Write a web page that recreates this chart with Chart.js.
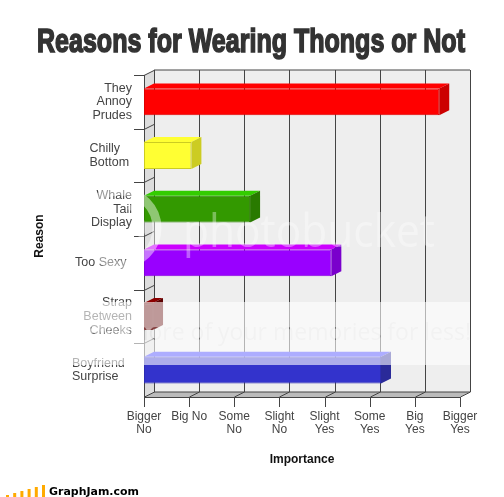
<!DOCTYPE html>
<html>
<head>
    <style>
        body { margin: 0; background: white; }
        canvas { display: block; }
    </style>
    <script src="https://cdn.jsdelivr.net/npm/chart.js"></script>
</head>
<body>
    <canvas id="chart" width="504" height="497"></canvas>
    <script>
        const chartTitle = "Reasons for Wearing Thongs or Not";
        const categories = [
            ["They", "Annoy", "Prudes"],
            ["Chilly", "Bottom"],
            ["Whale", "Tail", "Display"],
            ["Too Sexy"],
            ["Strap", "Between", "Cheeks"],
            ["Boyfriend", "Surprise"]
        ];
        const values = [6.54, 1.05, 2.35, 4.15, 0.2, 5.25];
        const importanceLabels = [
            ["Bigger", "No"], ["Big No"], ["Some", "No"], ["Slight", "No"],
            ["Slight", "Yes"], ["Some", "Yes"], ["Big", "Yes"], ["Bigger", "Yes"]
        ];

        // face colours per bar
        const frontColors = ["#ff0000", "#ffff33", "#339900", "#9900ff", "#5c0000", "#3333cc"];
        const edgeColors = ["#dd0000", "#cccc22", "#2b8000", "#8500dd", "#5c0000", "#2c2cb0"];
        const topColors = ["#ff0000", "#ffff33", "#33cc00", "#cc00ff", "#8b0000", "#3333ff"];
        const sideColors = ["#cc0000", "#cccc22", "#297a00", "#7a00cc", "#5c0000", "#2a2a99"];
        // left edge of the left aligned labels, the others sit right aligned on the axis
        const labelLeft = [null, 89.5, null, 75, null, 72];

        const DX = 10, DY = 5; // depth of the fake 3d

        function poly(ctx, pts, fill) {
            ctx.beginPath();
            ctx.moveTo(pts[0][0], pts[0][1]);
            for (let i = 1; i < pts.length; i++) ctx.lineTo(pts[i][0], pts[i][1]);
            ctx.closePath();
            ctx.fillStyle = fill;
            ctx.fill();
        }

        function seg(ctx, x1, y1, x2, y2) {
            ctx.beginPath();
            ctx.moveTo(x1, y1);
            ctx.lineTo(x2, y2);
            ctx.stroke();
        }

        const walls = {
            id: "walls",
            beforeDatasetsDraw(chart) {
                const ctx = chart.ctx, a = chart.chartArea, xs = chart.scales.x, ys = chart.scales.y;
                ctx.save();
                poly(ctx, [[a.left + DX, a.top - DY], [a.right + DX, a.top - DY], [a.right + DX, a.bottom - DY], [a.left + DX, a.bottom - DY]], "#eeeeee");
                poly(ctx, [[a.left, a.top], [a.left + DX, a.top - DY], [a.left + DX, a.bottom - DY], [a.left, a.bottom]], "#dddddd");
                poly(ctx, [[a.left, a.bottom], [a.left + DX, a.bottom - DY], [a.right + DX, a.bottom - DY], [a.right, a.bottom]], "#bbbbbb");

                ctx.strokeStyle = "#444444";
                ctx.lineWidth = 1;
                importanceLabels.forEach((l, i) => {
                    const x = Math.round(xs.getPixelForValue(i)) + 0.5;
                    seg(ctx, x + DX, a.top - DY, x + DX, a.bottom - DY);
                    seg(ctx, x, a.bottom, x + DX, a.bottom - DY);
                    seg(ctx, x, a.bottom, x, a.bottom + 10);
                });
                seg(ctx, a.left + DX, a.top - DY, a.right + DX, a.top - DY);
                seg(ctx, a.left + DX, a.bottom - DY, a.right + DX, a.bottom - DY);
                seg(ctx, a.left, a.bottom + 0.5, a.right, a.bottom + 0.5);
                seg(ctx, a.left + 0.5, a.top, a.left + 0.5, a.bottom);
                categories.forEach((c, i) => {
                    const y = Math.round(ys.getPixelForValue(i - 0.5)) + 0.5;
                    seg(ctx, a.left - 10, y, a.left, y);
                    seg(ctx, a.left, y, a.left + DX, y - DY);
                });
                ctx.restore();
            }
        };

        const bars3d = {
            id: "bars3d",
            afterDatasetsDraw(chart) {
                const ctx = chart.ctx;
                chart.getDatasetMeta(0).data.forEach((bar, i) => {
                    const x0 = bar.base, x1 = bar.x;
                    const y0 = bar.y - bar.height / 2, y1 = bar.y + bar.height / 2;
                    poly(ctx, [[x0, y0], [x0 + DX, y0 - DY], [x1 + DX, y0 - DY], [x1, y0]], topColors[i]);
                    poly(ctx, [[x1, y0], [x1 + DX, y0 - DY], [x1 + DX, y1 - DY], [x1, y1]], sideColors[i]);
                });
            }
        };

        const texts = {
            id: "texts",
            afterDatasetsDraw(chart) {
                const ctx = chart.ctx, a = chart.chartArea, ys = chart.scales.y;
                ctx.save();
                // title, squeezed by maxWidth since there is no narrow face
                ctx.font = "bold 33px 'Liberation Sans'";
                ctx.textAlign = "left";
                ctx.textBaseline = "alphabetic";
                ctx.fillStyle = "#333333";
                ctx.strokeStyle = "#333333";
                ctx.lineWidth = 1.6;
                ctx.fillText(chartTitle, 37, 52, 428);
                ctx.strokeText(chartTitle, 37, 52, 428);

                // category labels
                ctx.font = "12.5px 'Liberation Sans'";
                ctx.fillStyle = "#444444";
                ctx.textBaseline = "middle";
                categories.forEach((lines, i) => {
                    const cy = ys.getPixelForValue(i);
                    const left = labelLeft[i];
                    ctx.textAlign = left === null ? "right" : "left";
                    const x = left === null ? a.left - 12 : left;
                    lines.forEach((line, k) => {
                        ctx.fillText(line, x, cy + (k - (lines.length - 1) / 2) * 13.7);
                    });
                });

                // logo
                ctx.fillStyle = "#ffaa00";
                [2, 4, 6, 8, 10, 12].forEach((h, i) => ctx.fillRect(6 + i * 7.2, 497 - h, 3, h));
                ctx.fillStyle = "#000000";
                ctx.font = "bold 11px 'DejaVu Sans'";
                ctx.textAlign = "left";
                ctx.textBaseline = "alphabetic";
                ctx.fillText("GraphJam.com", 49, 495, 90);
                ctx.restore();
            }
        };

        const watermark = {
            id: "watermark",
            afterDraw(chart) {
                const ctx = chart.ctx;
                ctx.save();
                // ring of the photo host logo
                ctx.strokeStyle = "rgba(255,255,255,0.45)";
                ctx.lineWidth = 9;
                ctx.beginPath();
                ctx.arc(120, 228, 37, 0, Math.PI * 2);
                ctx.stroke();
                ctx.lineWidth = 5;
                ctx.beginPath();
                ctx.arc(120, 228, 23, -1.2, 1.4);
                ctx.stroke();
                ctx.fillStyle = "rgba(255,255,255,0.36)";
                ctx.font = "46px 'Open Sans'";
                ctx.textAlign = "left";
                ctx.textBaseline = "alphabetic";
                ctx.fillText("photobucket", 183, 247, 252);
                ctx.restore();

                // white band with the slogan cut out of it
                const off = document.createElement("canvas");
                off.width = 504;
                off.height = 497;
                const o = off.getContext("2d");
                o.fillStyle = "rgba(255,255,255,0.6)";
                o.fillRect(0, 302, 470, 63);
                o.globalCompositeOperation = "destination-out";
                o.fillStyle = "rgba(0,0,0,0.6)";
                o.font = "23px 'Open Sans'";
                o.textAlign = "right";
                o.fillText("Save more of your memories for less!", 471, 340);
                ctx.drawImage(off, 0, 0);
            }
        };

        new Chart(document.getElementById("chart").getContext("2d"), {
            type: "bar",
            data: {
                labels: categories,
                datasets: [{
                    data: values,
                    backgroundColor: frontColors,
                    borderColor: edgeColors,
                    borderWidth: 1,
                    borderSkipped: false,
                    barPercentage: 0.5,
                    categoryPercentage: 1
                }]
            },
            options: {
                indexAxis: "y",
                responsive: false,
                animation: false,
                layout: { padding: { top: 75, right: 44, left: 0, bottom: 0 } },
                plugins: { legend: { display: false }, tooltip: { enabled: false }, title: { display: false } },
                scales: {
                    x: {
                        type: "linear",
                        min: 0,
                        max: 7,
                        afterFit(scale) { scale.height = 100; },
                        afterBuildTicks(scale) {
                            scale.ticks = importanceLabels.map((l, i) => ({ value: i }));
                        },
                        grid: { display: false },
                        border: { display: false },
                        ticks: {
                            autoSkip: false,
                            maxRotation: 0,
                            padding: 5,
                            color: "#444444",
                            font: { family: "'Liberation Sans'", size: 12, lineHeight: 1.12 },
                            callback(value) { return importanceLabels[value]; }
                        },
                        title: {
                            display: true,
                            text: "Importance",
                            color: "#111111",
                            font: { family: "'Liberation Sans'", size: 12, weight: "bold" },
                            padding: { top: 0, bottom: 30 }
                        }
                    },
                    y: {
                        afterFit(scale) { scale.width = 144; },
                        grid: { display: false },
                        border: { display: false },
                        ticks: { display: false },
                        title: {
                            display: true,
                            text: "Reason",
                            color: "#111111",
                            font: { family: "'Liberation Sans'", size: 12, weight: "bold" },
                            padding: { top: 32, bottom: 0 }
                        }
                    }
                }
            },
            plugins: [walls, bars3d, texts, watermark]
        });
    </script>
</body>
</html>
